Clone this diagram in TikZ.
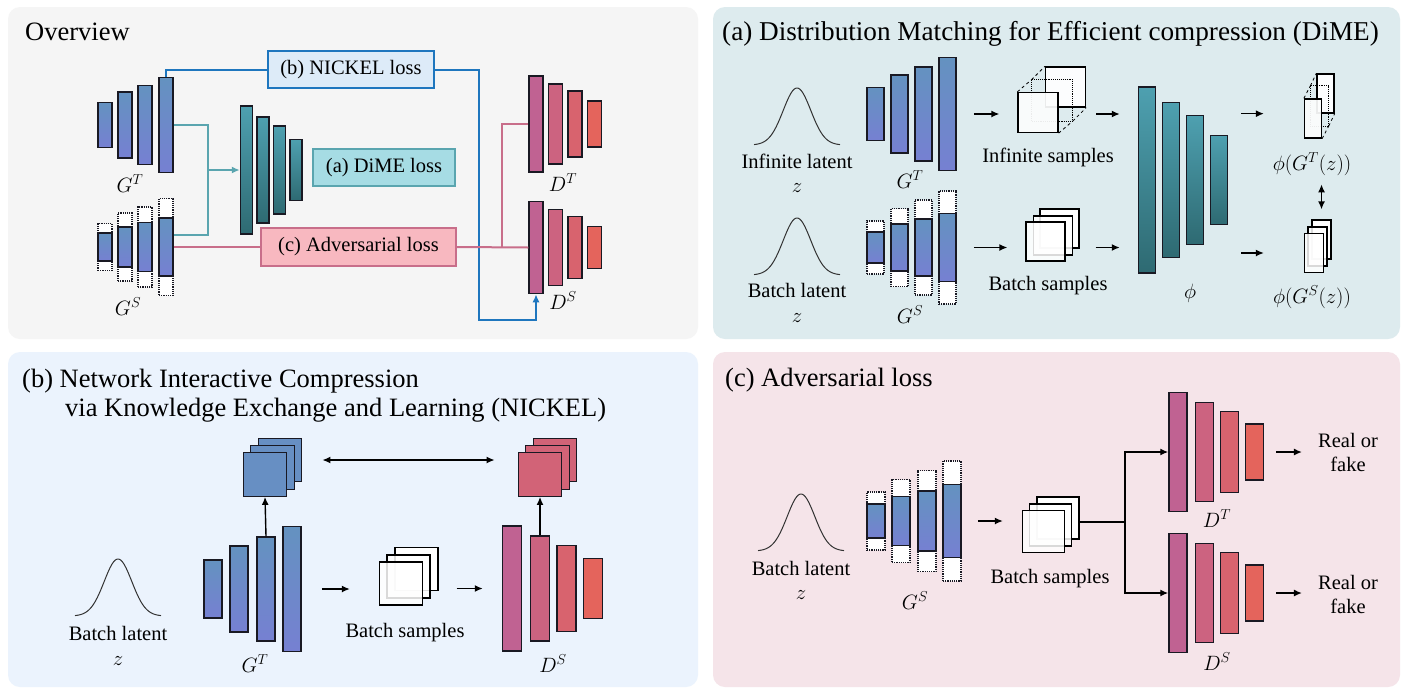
\documentclass[tikz,border=0pt]{standalone}
\usepackage{fontspec}
\setmainfont{Liberation Serif}
\usepackage{xcolor}
\usetikzlibrary{arrows.meta,positioning,calc}
\definecolor{ovbg}{RGB}{245,245,245}
\definecolor{dimebg}{RGB}{221,235,238}
\definecolor{nickbg}{RGB}{235,243,253}
\definecolor{advbg}{RGB}{245,228,233}
\definecolor{gtop}{RGB}{100,146,192}
\definecolor{gbot}{RGB}{118,128,210}
\definecolor{phitop}{RGB}{78,160,176}
\definecolor{phibot}{RGB}{46,106,114}
\definecolor{dleft}{RGB}{192,98,146}
\definecolor{dright}{RGB}{228,100,92}
\definecolor{nickline}{RGB}{30,118,190}
\definecolor{nickfill}{RGB}{221,235,248}
\definecolor{dimeline}{RGB}{90,165,175}
\definecolor{dimefill}{RGB}{166,220,228}
\definecolor{advline}{RGB}{200,110,138}
\definecolor{advfill}{RGB}{248,184,192}
\definecolor{barline}{RGB}{25,25,35}
\definecolor{gline}{RGB}{50,50,50}

\newcommand{\gauss}[2]{\draw[gline, line width=1pt] plot[domain=-43:43, samples=70, smooth] ({#1+\x},{#2-57*exp(-((\x)^2)/380)});}

\begin{document}
\begin{tikzpicture}[x=1pt, y=-1pt,
    lbl/.style={font=\fontsize{20.5}{24}\selectfont, inner sep=0pt, anchor=base},
    mlbl/.style={font=\fontsize{22.5}{26}\selectfont, inner sep=0pt, anchor=base},
    title/.style={font=\fontsize{26.5}{30}\selectfont, anchor=base west, inner sep=0pt},
    bar/.style={draw=barline, line width=1.5pt, inner sep=0pt, minimum width=#1},
    gbar/.style={bar=#1, top color=gtop, bottom color=gbot, postaction={draw=barline, line width=1.5pt}},
    pbar/.style={bar=#1, top color=phitop, bottom color=phibot, postaction={draw=barline, line width=1.5pt}},
    mask/.style={draw=barline, densely dotted, line width=1.2pt, fill=white, inner sep=0pt, minimum width=#1},
    samp/.style={draw=black, line width=1.3pt, fill=white, inner sep=0pt, minimum size=#1},
    lossbox/.style={rectangle, line width=1.7pt, inner sep=0pt, font=\fontsize{20.5}{24}\selectfont},
    arr/.style={-{Latex[length=8pt,width=7pt]}, line width=1.4pt},
    darr/.style={{Latex[length=8pt,width=7pt]}-{Latex[length=8pt,width=7pt]}, line width=1.4pt},
    bline/.style={draw=nickline, line width=2pt},
    tline/.style={draw=dimeline, line width=2pt},
    pline/.style={draw=advline, line width=2pt}
]
    \useasboundingbox (0,0) rectangle (1408,694);
    \fill[white] (0,0) rectangle (1408,694);

    % panels
    \fill[ovbg, rounded corners=12pt] (8,7) rectangle (698,339);
    \fill[dimebg, rounded corners=12pt] (713,7) rectangle (1400,339);
    \fill[nickbg, rounded corners=12pt] (8,352) rectangle (698,687);
    \fill[advbg, rounded corners=12pt] (713,352) rectangle (1400,687);

    \node[title] (ovtitle) at (25,40) {Overview};
    \node[title, font=\fontsize{27.2}{30}\selectfont] (dimetitle) at (722,40) {(a) Distribution Matching for Efficient compression (DiME)};
    \node[title] (nicktitle) at (22,387) {(b) Network Interactive Compression};
    \node[title] (nicktitle2) at (65,416) {via Knowledge Exchange and Learning (NICKEL)};
    \node[title] (advtitle) at (725,386) {(c) Adversarial loss};

    %% Overview
    \foreach \x/\h [count=\i] in {105/45, 125/66, 145/79, 166/95}
        \node[gbar=14pt, minimum height=\h pt] (ogt\i) at (\x,125) {};
    \foreach \x/\h/\s [count=\i] in {105/47/28, 125/68/40, 145/80/49, 166/97/58} {
        \node[mask=14pt, minimum height=\h pt] (ogsm\i) at (\x,247) {};
        \node[gbar=14pt, minimum height=\s pt] (ogs\i) at (\x,247) {};
    }
    \foreach \x/\h [count=\i] in {246.5/128, 263/106, 279.5/88, 296/61}
        \node[pbar=12pt, minimum height=\h pt] (ophi\i) at (\x,170) {};
    \foreach \x/\h/\c [count=\i] in {536/96/100, 555.5/80/67, 575/66/34, 594.5/46/0} {
        \node[bar=14pt, fill=dleft!\c!dright, minimum height=\h pt] (odt\i) at (\x,124) {};
        \node[bar=14pt, fill=dleft!\c!dright, minimum height=\h pt-4pt] (ods\i) at (\x,247.5) {};
    }
    \node[mlbl] (ogtl) at (130,192) {$G^T$};
    \node[mlbl] (ogsl) at (128,315) {$G^S$};
    \node[mlbl] (odtl) at (563,191) {$D^T$};
    \node[mlbl] (odsl) at (563,309) {$D^S$};

    \node[lossbox, draw=nickline, fill=nickfill, minimum width=166pt, minimum height=37pt] (nick) at (351,69.5) {(b) NICKEL loss};
    \node[lossbox, draw=dimeline, fill=dimefill, minimum width=142pt, minimum height=37pt] (dime) at (384,167.5) {(a) DiME loss};
    \node[lossbox, draw=advline, fill=advfill, minimum width=195pt, minimum height=38pt] (adv) at (358.5,247) {(c) Adversarial loss};

    \coordinate (tjoin) at (208,170);
    \coordinate (bturn) at (479,320);
    \coordinate (pjoin) at (502,247);
    \draw[tline] (ogt4.east) -| (tjoin) |- ([yshift=12pt]ogs4.east);
    \draw[tline, arr, line width=2pt] (tjoin) -- (ophi1.west);
    \draw[bline] (ogt4.north) |- (nick.west);
    \draw[bline, arr, line width=2pt] (nick.east) -| (bturn) -| (ods1.south);
    \draw[pline] (ogs4.east) -- (adv.west);
    \draw[pline] (adv.east) -- (ods1.west);
    \draw[pline] (pjoin) |- (odt1.west);

    %% (a) DiME
    \gauss{797}{145}
    \gauss{797}{275}
    \node[lbl] (dinfl) at (797,168) {Infinite latent};
    \node[mlbl] (dz1) at (797,192) {$z$};
    \node[lbl] (dbatl) at (797,297) {Batch latent};
    \node[mlbl] (dz2) at (797,322) {$z$};

    \foreach \x/\h [count=\i] in {875.5/53, 899.5/78, 923.5/94, 947.5/113}
        \node[gbar=17pt, minimum height=\h pt] (dgt\i) at (\x,114) {};
    \foreach \x/\h/\s [count=\i] in {875.5/53/31, 899.5/78/47, 923.5/95/57, 947.5/113/68} {
        \node[mask=17pt, minimum height=\h pt] (dgsm\i) at (\x,247.5) {};
        \node[gbar=17pt, minimum height=\s pt] (dgs\i) at (\x,247.5) {};
    }
    \node[mlbl] (dgtl) at (910,188) {$G^T$};
    \node[mlbl] (dgsl) at (910,323) {$G^S$};

    % infinite samples
    \node[samp=40pt, fill=white!92!dimebg] (isb) at (1065.5,87) {};
    \node[samp=40pt, draw=none, fill=none] (ism) at (1052,100.5) {};
    \draw[densely dotted, line width=1.1pt] (ism.north west) rectangle (ism.south east);
    \draw[dashed, line width=0.8pt] (ism.north west) -- (isb.north west);
    \draw[dashed, line width=0.8pt] (ism.south east) -- (isb.south east);
    \node[samp=40pt, fill=white!90!dimebg, fill opacity=0.93] (isf) at (1038,112.5) {};
    \draw[dashed, line width=0.8pt] (isf.north west) -- (ism.north west);
    \draw[dashed, line width=0.8pt] (isf.south east) -- (ism.south east);
    \node[lbl] (dinfs) at (1048,162) {Infinite samples};

    % batch samples
    \node[samp=39pt] (bsb) at (1059.5,228.5) {};
    \node[samp=39pt, fill opacity=0.85] (bsm) at (1053,235.5) {};
    \node[samp=39pt, fill opacity=0.85] (bsf) at (1045.5,241.5) {};
    \node[lbl] (dbats) at (1048,290) {Batch samples};

    \foreach \x/\h [count=\i] in {1147/186, 1171/155, 1195/129, 1219/89}
        \node[pbar=17pt, minimum height=\h pt] (dphi\i) at (\x,180) {};
    \node[mlbl] (dphil) at (1190,298) {$\phi$};

    % features
    \node[samp=1pt, minimum width=17pt, minimum height=39pt, fill=white!92!dimebg] (ftb) at (1325.5,93.5) {};
    \node[samp=1pt, minimum width=17pt, minimum height=39pt, draw=none, fill=none] (ftm) at (1319.5,106) {};
    \draw[densely dotted, line width=1.1pt] (ftm.north west) rectangle (ftm.south east);
    \draw[dashed, line width=0.8pt] (ftm.north west) -- (ftb.north west);
    \draw[dashed, line width=0.8pt] (ftm.south east) -- (ftb.south east);
    \node[samp=1pt, minimum width=17pt, minimum height=39pt, fill=white!90!dimebg, fill opacity=0.93] (ftf) at (1313,118.5) {};
    \draw[dashed, line width=0.8pt] (ftf.north west) -- (ftm.north west);
    \draw[dashed, line width=0.8pt] (ftf.south east) -- (ftm.south east);
    \node[samp=1pt, minimum width=19pt, minimum height=39pt] (fsb) at (1321.5,239.5) {};
    \node[samp=1pt, minimum width=19pt, minimum height=39pt, fill opacity=0.85] (fsm) at (1317.5,246.5) {};
    \node[samp=1pt, minimum width=19pt, minimum height=39pt, fill opacity=0.85] (fsf) at (1314,253) {};
    \node[mlbl] (dftl) at (1312,170) {$\phi(G^T(z))$};
    \node[mlbl] (dfsl) at (1312,303) {$\phi(G^S(z))$};

    \draw[arr] ($(dgt4.east)+(17,0)$) -- ($(dgt4.east -| isf.west)+(-18,0)$);
    \draw[arr] ($(dgs4.east)+(17,0)$) -- ($(dgs4.east -| bsf.west)+(-18,0)$);
    \draw[arr] ($(isb.east |- dgt4.east)+(10,0)$) -- ($(dphi1.west |- dgt4.east)+(-18,0)$);
    \draw[arr] ($(bsb.east |- dgs4.east)+(16,0)$) -- ($(dphi1.west |- dgs4.east)+(-18,0)$);
    \draw[arr] ($(dphi4.east |- ftb.south)+(13,0)$) -- ($(ftf.west |- ftb.south)+(-40,0)$);
    \draw[arr] ($(dphi4.east |- fsf.west)+(13,0)$) -- ($(fsf.west)+(-40,0)$);
    \draw[darr, shorten <=9pt, shorten >=10pt] (dftl.south -| fsb.north) -- (fsb.north);

    %% (b) NICKEL
    \gauss{118}{616}
    \node[lbl] (nbatl) at (118,640) {Batch latent};
    \node[mlbl] (nz) at (118,665) {$z$};
    \foreach \x/\h [count=\i] in {213/58, 239/86, 266/104, 292/125}
        \node[gbar=18pt, minimum height=\h pt] (ngt\i) at (\x,589) {};
    \node[mlbl] (ngtl) at (255,672) {$G^T$};
    \foreach \x/\h/\c [count=\i] in {512/125/100, 540/105/67, 566.5/86/34, 593/60/0}
        \node[bar=19pt, fill=dleft!\c!dright, minimum height=\h pt] (nds\i) at (\x,588.5) {};
    \node[mlbl] (ndsl) at (553,672) {$D^S$};

    \node[samp=43pt] (nsb) at (416.5,569) {};
    \node[samp=43pt, fill opacity=0.85] (nsm) at (408.5,576.5) {};
    \node[samp=43pt, fill opacity=0.85] (nsf) at (401,583.5) {};
    \node[lbl] (nbats) at (405,637) {Batch samples};

    \foreach \n/\x/\y in {nbb/280/460, nbm/272.5/467.5, nbf/265/474.5}
        \node[samp=43.5pt, draw=barline, fill=gtop!85!gbot] (\n) at (\x,\y) {};
    \foreach \n/\x/\y in {nrb/555/460, nrm/547.5/467.5, nrf/540/474.5}
        \node[samp=43.5pt, draw=barline, fill=dleft!50!dright] (\n) at (\x,\y) {};

    \draw[arr] (ngt3.north) -- (nbf.south);
    \draw[arr] (nds2.north) -- (nrf.south);
    \draw[darr] ($(nbb.east)+(20,0)$) -- ($(nrf.west |- nbb.east)+(-23,0)$);
    \draw[arr] ($(ngt4.east)+(20,0)$) -- ($(ngt4.east -| nsf.west)+(-29,0)$);
    \draw[arr] ($(nsb.east |- nds1.west)+(18,0)$) -- ($(nds1.west)+(-19,0)$);

    %% (c) Adversarial
    \gauss{801}{551}
    \node[lbl] (abatl) at (801,575) {Batch latent};
    \node[mlbl] (az) at (801,599) {$z$};
    \foreach \x/\h/\s [count=\i] in {876/58/34, 901/83/49, 927/101/60, 952/120/73} {
        \node[mask=18pt, minimum height=\h pt] (agsm\i) at (\x,521) {};
        \node[gbar=18pt, minimum height=\s pt] (ags\i) at (\x,521) {};
    }
    \node[mlbl] (agsl) at (915,609) {$G^S$};

    \node[samp=42pt] (asb) at (1058,518) {};
    \node[samp=42pt, fill opacity=0.85] (asm) at (1050.5,525) {};
    \node[samp=42pt, fill opacity=0.85] (asf) at (1043.5,531.5) {};
    \node[lbl] (abats) at (1050,583) {Batch samples};

    \foreach \x/\h/\c [count=\i] in {1178/119/100, 1204.5/99/67, 1229.5/81/34, 1254.5/56/0} {
        \node[bar=18pt, fill=dleft!\c!dright, minimum height=\h pt] (adt\i) at (\x,452) {};
        \node[bar=18pt, fill=dleft!\c!dright, minimum height=\h pt] (ads\i) at (\x,593) {};
    }
    \node[mlbl] (adtl) at (1217,527) {$D^T$};
    \node[mlbl] (adsl) at (1217,670) {$D^S$};
    \node[lbl, anchor=center, align=center] (arf1) at (1348,452) {Real or\\fake};
    \node[lbl, anchor=center, align=center] (arf2) at (1348,594) {Real or\\fake};

    \coordinate (ajoin) at (1125,522);
    \draw[arr] ($(ags4.east)+(16,0)$) -- ($(ags4.east -| asf.west)+(-19,0)$);
    \draw[line width=1.4pt] (asb.east |- ajoin) -- (ajoin);
    \draw[arr] (ajoin) |- (adt1.west);
    \draw[arr] (ajoin) |- (ads1.west);
    \draw[arr] ($(adt4.east)+(12,0)$) -- ($(adt4.east -| arf1.west)+(-16,0)$);
    \draw[arr] ($(ads4.east)+(12,0)$) -- ($(ads4.east -| arf2.west)+(-16,0)$);
\end{tikzpicture}
\end{document}
